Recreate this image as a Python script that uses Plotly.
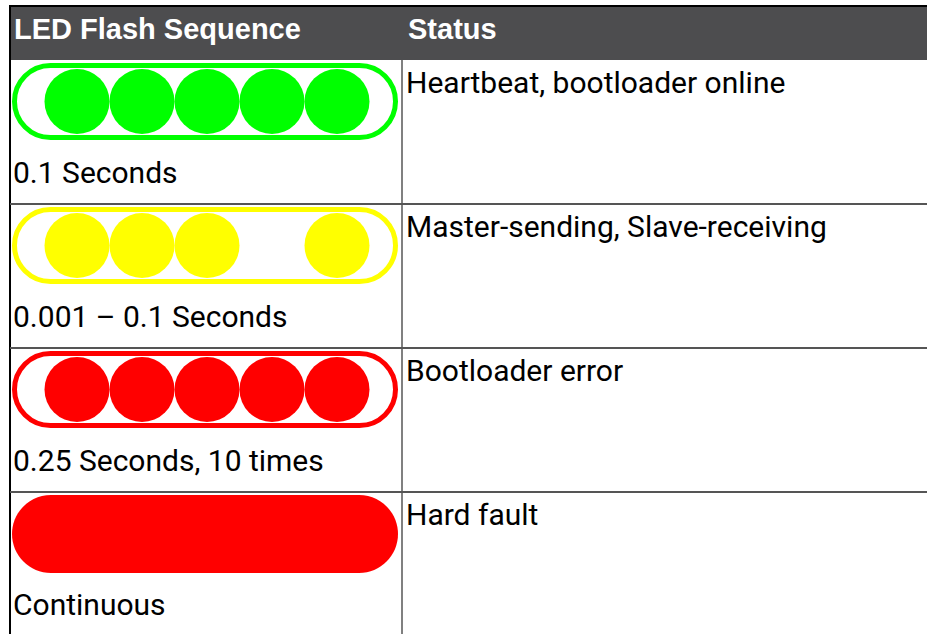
import plotly.graph_objects as go

# ---- data ----
header_labels = ["LED Flash Sequence", "Status"]
sequence_labels = ["0.1 Seconds", "0.001 – 0.1 Seconds", "0.25 Seconds, 10 times", "Continuous"]
status_labels = ["Heartbeat, bootloader online", "Master-sending, Slave-receiving",
                 "Bootloader error", "Hard fault"]
led_colors = ["#00ff00", "#ffff00", "#ff0000", "#ff0000"]
led_modes = ["blink", "blink", "blink", "solid"]
led_patterns = [[1, 1, 1, 1, 1], [1, 1, 1, 0, 1], [1, 1, 1, 1, 1], [0, 0, 0, 0, 0]]

# ---- layout geometry (pixels) ----
W, H = 927, 634
left_x, div_x = 10, 402
header_top, header_bot = 6, 60
row_h = 144
cap_x0, cap_x1 = 12, 398
cap_top_off, cap_h = 3, 77
led_x0, led_dx, led_d = 77, 65, 65
FONT = "Roboto"
HFONT = "Liberation Sans"
FS = 30
HFS = 29


def capsule_path(x0, x1, y0, y1):
    r = (y1 - y0) / 2.0
    cy = (y0 + y1) / 2.0
    k = 0.5523 * r
    xl, xr = x0 + r, x1 - r
    return (f"M {xl},{y0} L {xr},{y0} "
            f"C {xr + k},{y0} {x1},{cy - k} {x1},{cy} "
            f"C {x1},{cy + k} {xr + k},{y1} {xr},{y1} "
            f"L {xl},{y1} "
            f"C {xl - k},{y1} {x0},{cy + k} {x0},{cy} "
            f"C {x0},{cy - k} {xl - k},{y0} {xl},{y0} Z")


fig = go.Figure()
shapes = []
annotations = []

# header
shapes.append(dict(type="rect", xref="x", yref="y", x0=left_x, x1=W, y0=header_top, y1=header_bot,
                   fillcolor="#4d4d4f", line=dict(width=0), layer="below"))
shapes.append(dict(type="line", xref="x", yref="y", x0=left_x - 1, x1=W, y0=header_top, y1=header_top,
                   line=dict(color="#000000", width=2), layer="below"))
for lbl, x in zip(header_labels, [left_x + 2, div_x + 4]):
    annotations.append(dict(x=x, y=(header_top + header_bot) / 2 - 4, xref="x", yref="y",
                            text=f"<b>{lbl}</b>", showarrow=False, xanchor="left", yanchor="middle",
                            font=dict(family=HFONT, size=HFS, color="#ffffff")))

# borders
shapes.append(dict(type="line", xref="x", yref="y", x0=left_x, x1=left_x, y0=header_top - 1, y1=H,
                   line=dict(color="#000000", width=2), layer="below"))
shapes.append(dict(type="line", xref="x", yref="y", x0=div_x, x1=div_x, y0=header_bot, y1=H,
                   line=dict(color="#808080", width=2), layer="below"))

for i, (seq, stat, col, mode, pat) in enumerate(zip(sequence_labels, status_labels, led_colors,
                                                     led_modes, led_patterns)):
    top = header_bot + i * row_h
    if i > 0:
        shapes.append(dict(type="line", xref="x", yref="y", x0=left_x, x1=W, y0=top, y1=top,
                           line=dict(color="#555555", width=2), layer="below"))
    cy0, cy1 = top + cap_top_off, top + cap_top_off + cap_h
    if mode == "solid":
        shapes.append(dict(type="path", xref="x", yref="y",
                           path=capsule_path(cap_x0, cap_x1, cy0, cy1 + 1),
                           fillcolor=col, line=dict(width=0), layer="below"))
    else:
        shapes.append(dict(type="path", xref="x", yref="y",
                           path=capsule_path(cap_x0 + 2.5, cap_x1 - 2.5, cy0 + 2.5, cy1 - 2.5),
                           fillcolor="rgba(0,0,0,0)", line=dict(color=col, width=5), layer="below"))
        xs = [led_x0 + k * led_dx for k, on in enumerate(pat) if on]
        fig.add_trace(go.Scatter(x=xs, y=[(cy0 + cy1) / 2] * len(xs), mode="markers",
                                 marker=dict(size=led_d, color=col, line=dict(width=0)),
                                 hoverinfo="skip", showlegend=False))
    annotations.append(dict(x=left_x + 1, y=top + 112, xref="x", yref="y", text=seq,
                            showarrow=False, xanchor="left", yanchor="middle",
                            font=dict(family=FONT, size=FS, color="#000000")))
    annotations.append(dict(x=div_x + 2, y=top + 22, xref="x", yref="y", text=stat,
                            showarrow=False, xanchor="left", yanchor="middle",
                            font=dict(family=FONT, size=FS, color="#000000")))

fig.update_layout(
    width=W, height=H, margin=dict(l=0, r=0, t=0, b=0),
    paper_bgcolor="#ffffff", plot_bgcolor="#ffffff",
    xaxis=dict(range=[0, W], visible=False, showgrid=False, zeroline=False, fixedrange=True),
    yaxis=dict(range=[H, 0], visible=False, showgrid=False, zeroline=False, fixedrange=True),
    shapes=shapes, annotations=annotations, showlegend=False,
)

fig.write_html("out.html", config={"displayModeBar": False},
               post_script="document.body.style.margin='0';document.body.style.overflow='hidden';")
